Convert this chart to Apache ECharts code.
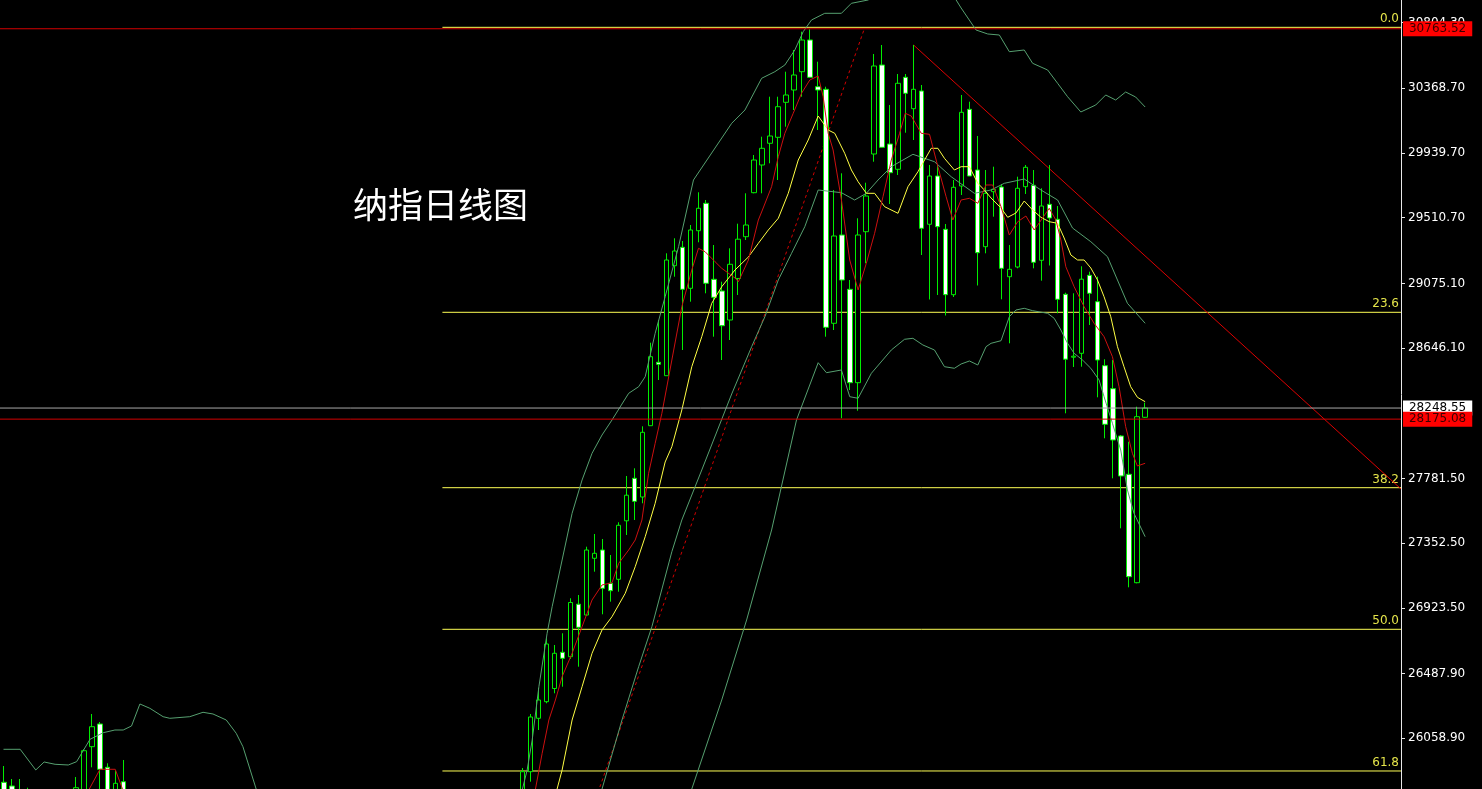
<!DOCTYPE html>
<html><head><meta charset="utf-8">
<script src="https://cdn.jsdelivr.net/npm/echarts@6/dist/echarts.min.js"></script>
<style>html,body{margin:0;padding:0;background:#000;overflow:hidden}#c{width:1482px;height:789px}</style>
</head><body><div id="c"></div>
<script>
const titleText = '纳指日线图';
const categoryCount = 176;
// [index, open, close, low, high]
const candles = [
[0,25767.2,25682.9,25649.8,25875.2],[1,25742.6,25649.8,25616.6,25789.0],[2,25710,25620,25590,25789.0],[3,25690,25640,25600,25731.4],
[9,25660,25731.4,25630,25802.3],[10,25690,25976.7,25660,25986.0],[11,26003.3,26135.8,25866.6,26220.0],[12,26153.7,25853.4,25716,26167.0],
[13,25866.6,25690,25660,25893.1],[14,25700,25760.5,25680,25844.1],[15,25771.1,25700,25670,25915.0],
[65,25680,25837.4,25650,25862.0],[66,25837.4,26200.1,25771.1,26220.0],[67,26191.5,26312.9,26113.9,26392.4],[68,26301.6,26684.2,26291.0,26722.0],
[69,26389.1,26622.5,26357.3,26677.5],[70,26629.1,26589.3,26401.0,26755.1],[71,26600.0,26959.3,26584.7,26987.2],[72,26948.1,26794.9,26533.6,27009.1],
[73,26876.4,27307.4,26869.8,27329.3],[74,27252.4,27285.5,27163.5,27413.5],[75,27307.4,27053.5,26881.1,27380.4],[76,27086.6,27037.6,26964.6,27274.3],
[77,27113.1,27471.2,27030.9,27491.1],[78,27501.0,27670.8,27406.9,27798.1],[79,27782.8,27630.3,27506.3,27849.1],[80,27658.8,28087.8,27617.1,28127.6],
[81,28131.6,28589.1,28131.6,28681.9],[82,28552.0,28538.7,28434.6,28832.4],[83,28463.1,29230.3,28463.1,29274.7],[84,29192.5,29289.9,29119.5,29374.2],
[85,29314.5,29036.0,28633.5,29356.3],[86,29042.6,29429.2,28953.8,29462.3],[87,29424.5,29573.1,29347.6,29679.2],[88,29606.2,29075.8,29009.5,29628.1],
[89,29102.3,28982.9,28721.7,29329.7],[90,29024.7,28794.6,28567.2,29086.4],[91,28832.4,29201.8,28699.8,29307.8],[92,29107.6,29368.2,28998.2,29471.0],
[93,29384.8,29462.3,29362.9,29672.5],[94,29676.5,29893.3,29672.5,29926.5],[95,29860.2,29970.9,29672.5,30047.8],[96,30004.1,30052.5,29871.4,30313.0],
[97,30043.8,30246.7,29760.7,30313.0],[98,30275.9,30324.3,30114.1,30478.8],[99,30357.5,30456.9,30224.8,30622.7],[100,30478.8,30689.0,30313.0,30744.0],
[101,30689.0,30441.7,30441.7,30759.9],[102,30379.3,30357.5,30092.2,30545.1],[103,30362.1,28784.0,28721.7,30379.3],[104,28810.6,29389.4,28766.1,29694.4],
[105,29396.0,29097.7,28180.7,29805.1],[106,29036.0,28416.7,28368.3,29097.7],[107,28416.7,29396.0,28231.0,29506.8],[108,29417.9,29654.6,29208.4,29742.8],
[109,29933.1,30516.6,29882.0,30596.2],[110,30523.2,29977.5,29977.5,30655.8],[111,29999.4,29809.1,29601.6,30258.0],[112,29831.7,30401.9,29793.9,30463.5],
[113,30441.7,30335.6,30074.3,30463.5],[114,30233.5,30362.1,30025.9,30655.8],[115,30350.8,29440.5,29263.4,30390.6],[116,29467.0,29787.2,28968.4,29860.2],
[117,29787.2,29451.1,28998.2,29860.2],[118,29433.8,29000.2,28862.3,29469.0],[119,29000.2,29712.3,28984.9,29760.7],[120,29720.9,30209.6,29661.3,30324.3],
[121,30229.5,29787.2,29787.2,30279.9],[122,29827.0,29278.7,29061.2,30052.5],[123,29318.5,29672.5,29274.7,29827.0],[124,29683.1,29699.0,29517.4,29848.9],
[125,29714.3,29175.2,28969.7,29732.2],[126,29119.5,29168.6,28677.9,29329.7],[127,29183.9,29705.7,29175.2,29782.6],[128,29716.3,29844.9,29667.9,29860.2],
[129,29725.6,29215.0,29175.2,29827.0],[130,29228.3,29588.3,29093.0,29705.7],[131,29599.6,29508.7,29193.8,29860.2],[132,29500.1,28969.7,28876.9,29588.3],
[133,29002.8,28572.5,28213.8,29013.5],[134,28585.8,28592.4,28520.8,29009.5],[135,28611.6,29103.0,28522.8,29188.5],[136,29128.8,29009.5,28799.3,29152.7],
[137,28953.8,28567.2,28319.9,29119.5],[138,28529.4,28140.9,28048.1,28571.9],[139,28376.9,28036.8,27782.8,28567.2],[140,28063.3,27798.1,27451.3,28069.9],
[141,27809.4,27130.4,27060.1,28025.5],[142,27090.6,28191.3,27086.6,28257.6],[143,28187.3,28248.55,28182.7,28284.1]
];
// indicator lines: [index position, price]
const maFast = [[9.94,25583.5],[10.69,25722.7],[12.03,25853.4],[13.94,25853.4],[14.85,25722.7],[15.56,25583.5],[40,24900],[65.94,25583.5],[66.6,25722.7],[67.44,25959.4],[68.28,26180.2],[69.1,26312.9],[69.94,26467.3],[71.19,26622.5],[72.44,26798.9],[73.69,26975.9],[74.94,27075.4],[76.19,27090.6],[77.03,27219.2],[78.28,27307.4],[79.1,27373.7],[79.94,27506.3],[80.78,27816.0],[81.6,28014.9],[82.44,28213.8],[83.69,28567.2],[84.94,28920.6],[86.19,29164.0],[87.03,29307.8],[87.85,29285.3],[89.1,29219.0],[89.94,29175.2],[91.6,29110.9],[92.03,29086.4],[93.28,29230.3],[94.53,29495.5],[94.94,29548.5],[96.19,29716.3],[97.03,29915.2],[97.85,30070.4],[98.9,30203.0],[99.94,30335.6],[100.98,30423.8],[102.03,30450.3],[102.65,30313.0],[103.28,30070.4],[103.9,29959.6],[104.94,29628.1],[105.98,29230.3],[107.03,29031.4],[108.06,29208.4],[109.1,29407.3],[110.15,29650.0],[111.19,29893.3],[112.23,30070.4],[112.94,30203.0],[113.69,30185.1],[114.94,30070.4],[115.98,30063.7],[117.03,29848.9],[118.06,29650.0],[118.9,29495.5],[119.94,29628.1],[120.98,29639.4],[122.03,29606.2],[123.06,29727.6],[123.9,29727.6],[124.94,29583.7],[125.98,29396.0],[127.03,29484.2],[128.06,29522.0],[129.1,29429.2],[130.15,29508.7],[130.98,29573.1],[131.81,29495.5],[132.44,29362.9],[133.06,29185.8],[134.1,29053.2],[135.35,28920.6],[136.6,28810.6],[137.85,28721.7],[138.9,28589.1],[139.73,28390.2],[140.56,28125.0],[141.4,27948.6],[142.03,27864.4],[143,27882.3]];
const maSlow = [[67.44,25252.0],[69.31,25722.7],[69.94,25848.7],[71.19,26180.2],[72.44,26401.0],[73.69,26622.5],[74.94,26777.0],[76.19,26865.2],[77.85,27020.3],[79.1,27196.7],[80.35,27395.6],[81.6,27617.1],[82.85,27890.9],[83.69,27992.4],[84.94,28235.7],[86.19,28522.8],[87.44,28721.7],[88.69,28943.2],[89.94,29053.2],[91.6,29164.0],[93.28,29250.2],[94.53,29341.0],[95.78,29429.2],[97.03,29506.8],[98.28,29672.5],[99.53,29893.3],[100.78,30025.9],[102.03,30185.1],[103.28,30092.2],[104.1,30070.4],[105.35,29937.7],[106.19,29827.0],[107.03,29749.4],[108.06,29672.5],[109.1,29672.5],[110.35,29583.7],[112.03,29539.9],[113.28,29716.3],[114.53,29815.7],[116.19,29970.9],[117.03,29970.9],[117.85,29904.6],[119.1,29827.0],[119.94,29848.9],[120.98,29848.9],[122.03,29738.8],[122.85,29694.4],[123.69,29641.4],[124.94,29575.1],[125.78,29513.4],[126.81,29541.9],[127.85,29621.5],[128.9,29561.8],[129.94,29513.4],[130.98,29484.2],[132.03,29473.6],[132.85,29376.1],[133.69,29263.4],[134.53,29230.3],[135.35,29230.3],[136.19,29177.3],[137.03,29097.7],[137.85,28986.9],[138.69,28854.3],[139.53,28655.4],[140.35,28522.8],[141.19,28390.2],[142.03,28319.9],[143,28290.7]];
const bandUpper = [[-0.06,25985.9],[2.03,25985.9],[3.98,25848.7],[5.03,25901.8],[6.4,25886.5],[8.06,25881.9],[9.1,25903.8],[10.78,26052.3],[12.44,26096.0],[13.9,26113.9],[14.94,26113.9],[15.98,26140.5],[17.03,26286.3],[18.28,26257.8],[19.94,26202.1],[20.78,26191.5],[23.28,26202.1],[24.94,26231.3],[26.19,26220.0],[27.85,26180.2],[29.1,26092.1],[29.94,26003.3],[31.6,25722.7],[32.44,25583.5],[47.44,25119.4],[63.69,25450.9],[65.56,25848.7],[66.19,26047.6],[67.03,26401.0],[68.06,26755.1],[68.69,26931.5],[69.94,27241.1],[71.19,27550.8],[72.44,27771.6],[73.69,27948.6],[74.94,28069.9],[76.19,28169.4],[78.28,28346.4],[79.53,28390.2],[80.35,28456.5],[81.6,28744.2],[82.85,28986.9],[84.53,29318.5],[86.4,29760.7],[91.19,30136.7],[92.85,30224.8],[94.94,30435.0],[96.6,30478.8],[97.85,30523.2],[99.1,30622.7],[100.15,30744.0],[101.19,30821.6],[102.85,30866.0],[104.94,30866.0],[106.19,30932.3],[108.28,30954.2],[111.19,31053.7],[114.94,31120.0],[118.69,31007.2],[119.94,30901.2],[121.81,30755.3],[123.28,30728.8],[124.73,30722.1],[125.98,30611.4],[127.85,30622.7],[128.9,30534.5],[130.78,30490.1],[132.03,30401.9],[133.28,30313.0],[134.94,30211.6],[136.81,30258.0],[138.06,30324.3],[139.31,30291.1],[140.56,30344.2],[141.81,30311.0],[143,30244.7]];
const bandMiddle = [[72.44,25252.0],[74.94,25722.7],[77.44,26180.2],[79.53,26533.6],[81.19,26798.9],[83.69,27296.2],[84.94,27506.3],[87.44,27837.9],[91.19,28341.8],[93.69,28655.4],[95.35,28854.3],[97.03,29097.7],[98.69,29274.7],[100.35,29451.1],[102.03,29694.4],[104.94,29676.5],[106.6,29628.1],[108.06,29672.5],[109.53,29760.7],[111.19,29848.9],[113.9,29931.1],[116.6,29882.0],[118.69,29782.6],[121.6,29672.5],[123.69,29694.4],[125.35,29738.8],[127.85,29767.3],[129.94,29694.4],[132.03,29628.1],[133.9,29442.4],[136.19,29351.6],[138.28,29252.2],[140.78,28943.2],[143,28810.6]];
const bandLower = [[83.69,25252.0],[86.19,25722.7],[89.94,26312.9],[93.06,26843.3],[96.19,27440.0],[99.31,28169.4],[102.03,28549.3],[103.06,28483.0],[104.94,28500.9],[105.98,28323.9],[107.03,28313.3],[108.69,28479.0],[111.19,28633.5],[112.85,28704.5],[113.9,28711.1],[115.15,28666.7],[116.6,28633.5],[117.85,28522.8],[119.1,28512.2],[119.94,28540.7],[120.98,28560.6],[122.03,28534.1],[123.06,28655.4],[123.69,28677.9],[124.94,28695.2],[125.98,28854.3],[126.81,28898.7],[127.85,28910.0],[128.9,28894.1],[130.78,28876.9],[131.6,28843.7],[132.44,28766.1],[133.28,28677.9],[134.1,28611.6],[135.15,28567.2],[136.19,28512.2],[137.23,28434.6],[137.85,28323.9],[138.9,28147.5],[139.94,27970.5],[140.78,27705.3],[141.6,27550.8],[143,27395.6]];
const upTrend = [[72.44,25397.8],[107.81,30763.52]];
const downTrend = [[113.98,30655.8],[175.06,27711.9]];
const fibLevels = [30773.0, 28883.5, 27720.5, 26781.6, 25842.1];
const fibLabels = ['0.0','23.6','38.2','50.0','61.8'];
const fibStart = 54.94, lineEnd = 175.06, lineStart = -0.5;
const priceLines = [30763.52, 28248.55, 28175.08];
const priceLabels = ['30763.52','28248.55','28175.08'];
const priceLineColors = ['#d40000','#a8a8a8','#d40000'];
const priceBoxColors = ['#ff0000','#ffffff','#ff0000'];
const priceTextColors = ['#3a0000','#000000','#3a0000'];
const yTicks = [30804.30, 30368.70, 29939.70, 29510.70, 29075.10, 28646.10, 27781.50, 27352.50, 26923.50, 26487.90, 26058.90];
const yMin = 25722.7, yMax = 30954.2;

const categories = Array.from({length: categoryCount}, (_, i) => String(i));
const candleData = categories.map(() => '-');
candles.forEach(c => { candleData[c[0]] = [c[1], c[2], c[3], c[4]]; });

const font = 'DejaVu Sans';

function lineSeries(data, color, z, dashed) {
  return {type: 'line', xAxisIndex: 1, yAxisIndex: 0, data: data, showSymbol: false, symbol: 'none', z: z, silent: true,
          lineStyle: {color: color, width: 1, type: dashed ? [3, 3] : 'solid'}, clip: true};
}

const fibSeries = fibLevels.map((v, i) => {
  const s = lineSeries([[fibStart, v], [lineEnd, v]], '#ffff55', 1, false);
  s.endLabel = {show: true, formatter: fibLabels[i], distance: 0, align: 'right', verticalAlign: 'bottom',
                padding: [0, 2, 2, 0], color: '#e4e44a', fontSize: 12, fontFamily: font};
  return s;
});
const priceSeries = priceLines.map((v, i) => {
  const s = lineSeries([[lineStart, v], [lineEnd, v]], priceLineColors[i], 7 + i, false);
  s.endLabel = {show: true, formatter: priceLabels[i], distance: 2, align: 'left', verticalAlign: 'middle',
                backgroundColor: priceBoxColors[i], color: priceTextColors[i], padding: [2, 6, 1, 6], fontSize: 12, fontFamily: font};
  return s;
});

const chart = echarts.init(document.getElementById('c'), null, {renderer: 'canvas'});
chart.setOption({
  animation: false,
  backgroundColor: '#000000',
  title: {text: titleText, left: 348, top: 182, textStyle: {color: '#ffffff', fontSize: 35, fontWeight: 'normal', fontFamily: 'Noto Sans CJK SC'}},
  grid: {left: -3.5, right: 77.5, top: 0, bottom: 0, containLabel: false},
  xAxis: [
    {type: 'category', data: categories, boundaryGap: true, show: false},
    {type: 'value', min: -0.5, max: categoryCount - 0.5, show: false}
  ],
  yAxis: [{
    type: 'value', position: 'right', offset: -3.5, min: yMin, max: yMax, scale: true,
    axisLine: {show: true, onZero: false, lineStyle: {color: '#e8e8e8', width: 1}},
    axisTick: {show: true, length: 4, customValues: yTicks, lineStyle: {color: '#e8e8e8'}},
    axisLabel: {show: true, customValues: yTicks, margin: 7, color: '#ffffff', fontSize: 12, fontFamily: font,
                formatter: v => Number(v).toFixed(2)},
    splitLine: {show: false}
  }],
  series: [
    ...fibSeries,
    lineSeries(downTrend, '#dd0000', 2, false),
    lineSeries(upTrend, '#d00000', 2, true),
    {type: 'candlestick', xAxisIndex: 0, yAxisIndex: 0, data: candleData, barWidth: 5, z: 3, silent: true,
     itemStyle: {color: '#000000', color0: '#ffffff', borderColor: '#00ee00', borderColor0: '#00ee00', borderWidth: 1}},
    lineSeries(bandUpper, '#56a070', 4, false),
    lineSeries(bandMiddle, '#56a070', 4, false),
    lineSeries(bandLower, '#56a070', 4, false),
    lineSeries(maSlow, '#ffff44', 5, false),
    lineSeries(maFast, '#cc1010', 6, false),
    ...priceSeries
  ]
});
</script>
</body></html>
